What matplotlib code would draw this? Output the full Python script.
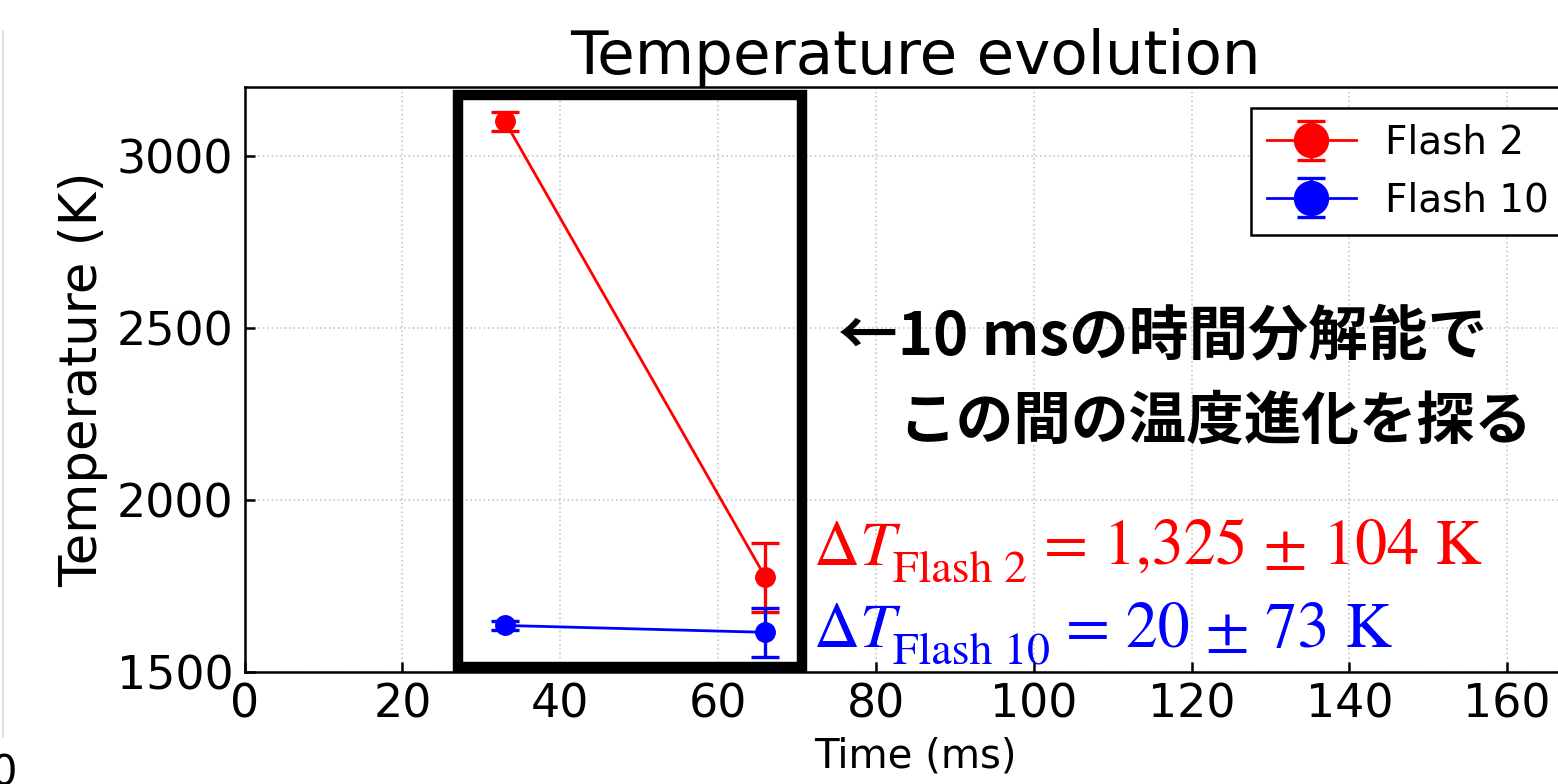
import matplotlib
matplotlib.use('Agg')
import matplotlib.pyplot as plt
from matplotlib.patches import Rectangle
from matplotlib.lines import Line2D

plt.rcParams['mathtext.fontset'] = 'stix'

# data
time_ms = [33, 66]
flash2_T = [3100, 1775]
flash2_err = [28, 100]
flash10_T = [1635, 1615]
flash10_err = [12, 72]

xticks = [0, 20, 40, 60, 80, 100, 120, 140, 160]
yticks = [1500, 2000, 2500, 3000]

fig = plt.figure(figsize=(15.58, 7.84), dpi=100)
ax = fig.add_axes([0.157, 0.143, 0.861, 0.746])

ax.errorbar(time_ms, flash2_T, yerr=flash2_err, color='red', marker='o',
            markersize=14, linewidth=2, elinewidth=2.4, capsize=10, capthick=2.4,
            label='Flash 2', zorder=4)
ax.errorbar(time_ms, flash10_T, yerr=flash10_err, color='blue', marker='o',
            markersize=14, linewidth=2, elinewidth=2.4, capsize=10, capthick=2.4,
            label='Flash 10', zorder=4)

ax.set_xlim(0, 170)
ax.set_ylim(1500, 3200)
ax.set_xticks(xticks)
ax.set_yticks(yticks)
ax.tick_params(direction='in', length=7, width=1.8, labelsize=33)
ax.tick_params(axis='x', pad=8)
ax.tick_params(axis='y', pad=8)
ax.grid(True, linestyle=':', color='#c8c8c8', linewidth=1.2)
for s in ax.spines.values():
    s.set_linewidth(1.8)

ax.set_xlabel('Time (ms)', fontsize=29, labelpad=6)
ax.set_ylabel('Temperature (K)', fontsize=37, labelpad=6)
ax.set_title('Temperature evolution', fontsize=44, pad=6)

leg = ax.legend(loc='upper right', fontsize=28, markerscale=1.75, fancybox=False,
                edgecolor='black', framealpha=1, borderaxespad=0.55,
                borderpad=0.4, labelspacing=0.5, handlelength=2.3,
                handletextpad=0.75)
leg.get_frame().set_linewidth(1.8)

# black box around the measured interval
ax.add_patch(Rectangle((27.0, 1515), 43.6, 1662, fill=False, edgecolor='black',
                       linewidth=7.5, zorder=5, clip_on=False))

jp = ['Noto Sans CJK JP', 'DejaVu Sans']
ax.text(75.2, 2471, '←10 msの時間分解能で', fontsize=43, fontweight='bold',
        family=jp, va='center', ha='left')
ax.text(82.8, 2227, 'この間の温度進化を探る', fontsize=41.5, fontweight='bold',
        family=jp, va='center', ha='left')

# temperature drops: symbol, lowered subscript, then the value
dT_labels = [('Flash 2', '= 1,325 ± 104 K', 'red', 1811, 231),
             ('Flash 10', '= 20 ± 73 K', 'blue', 1573, 253)]
for sub, val, col, yb, dx in dT_labels:
    ax.text(72.0, yb, r'$\Delta T$', color=col, fontsize=46, va='baseline', ha='left')
    ax.annotate(sub, xy=(72.0, yb), xytext=(80, -17), textcoords='offset pixels',
                color=col, fontsize=33, family='STIXGeneral', va='baseline', ha='left')
    ax.annotate(val, xy=(72.0, yb), xytext=(dx, 0), textcoords='offset pixels',
                color=col, fontsize=46, family='STIXGeneral', va='baseline', ha='left')

# edge of the neighbouring panel
fig.add_artist(Line2D([0.002, 0.002], [0.06, 0.96], color='#dddddd', linewidth=1.2))
fig.text(-0.006, -0.014, '0', fontsize=30, va='bottom', ha='left')

fig.savefig('out.png', dpi=100)
